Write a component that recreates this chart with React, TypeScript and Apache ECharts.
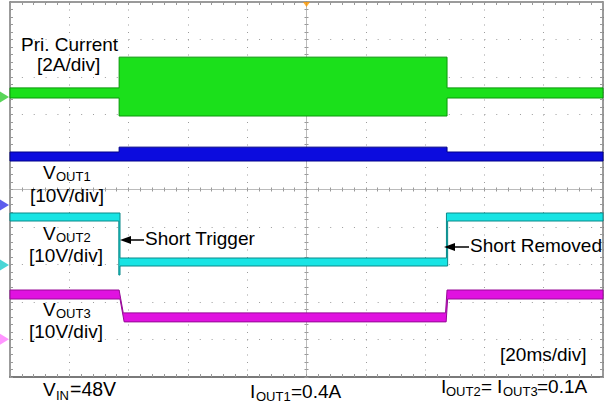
import React, { useEffect, useRef } from "react";
import * as echarts from "echarts";

// Time axis in ms (20 ms/div, trigger at 0), vertical axis in divisions (centre = 0)
const X_MIN = -100;
const X_MAX = 100;
const X_STEP = 20;
const Y_MIN = -5;
const Y_MAX = 5;

// Primary current band (upper / lower envelope)
const priHiT = [-100, -63.2, -63.2, 47.4, 47.4, 100];
const priHi = [2.71, 2.71, 3.53, 3.53, 2.71, 2.71];
const priLoT = [-100, -63.2, -63.2, 47.4, 47.4, 100];
const priLo = [2.44, 2.44, 1.96, 1.96, 2.44, 2.44];

// VOUT1
const v1HiT = [-100, -63.2, -63.2, 47.4, 47.4, 100];
const v1Hi = [1.0, 1.0, 1.13, 1.13, 1.0, 1.0];
const v1LoT = [-100, 100];
const v1Lo = [0.76, 0.76];

// VOUT2
const v2HiT = [-100, -62.9, -62.9, 47.2, 47.2, 100];
const v2Hi = [-0.627, -0.627, -1.827, -1.827, -0.627, -0.627];
const v2LoT = [-100, -63.3, -63.3, -62.9, -62.9, 47.6, 47.6, 100];
const v2Lo = [-0.84, -0.84, -2.28, -2.28, -2.04, -2.04, -0.84, -0.84];

// VOUT3
const v3HiT = [-100, -63.2, -61.8, 46.9, 47.4, 100];
const v3Hi = [-2.68, -2.68, -3.29, -3.29, -2.68, -2.68];
const v3LoT = [-100, -62.9, -61.5, 47.1, 47.6, 100];
const v3Lo = [-2.92, -2.92, -3.53, -3.53, -2.92, -2.92];

// Channel ground markers (div)
const markerLevels = [2.47, -0.41, -2.01, -3.99];
const markerColors = ["#2ecc2e", "#3434e8", "#1ccccc", "#ff7bff"];

const FONT = "Liberation Sans, Arial, sans-serif";

type Lbl = { t: string; x: number; b: number; s: number };
const labels: Lbl[] = [
  { t: "Pri. Current", x: 21, b: 51, s: 19 },
  { t: "[2A/div]", x: 37, b: 71, s: 19 },
  { t: "V", x: 43, b: 179, s: 19 },
  { t: "OUT1", x: 56, b: 181.5, s: 13 },
  { t: "[10V/div]", x: 30, b: 202, s: 19 },
  { t: "V", x: 43, b: 240, s: 19 },
  { t: "OUT2", x: 56, b: 242.5, s: 13 },
  { t: "[10V/div]", x: 29, b: 262.5, s: 19 },
  { t: "V", x: 43, b: 316, s: 19 },
  { t: "OUT3", x: 56, b: 318.5, s: 13 },
  { t: "[10V/div]", x: 29, b: 338, s: 19 },
  { t: "Short Trigger", x: 145, b: 245, s: 19 },
  { t: "Short Removed", x: 470, b: 252, s: 19 },
  { t: "[20ms/div]", x: 500, b: 361, s: 19 },
  { t: "V", x: 43, b: 396, s: 19 },
  { t: "IN", x: 56, b: 400, s: 13 },
  { t: "=48V", x: 70, b: 396, s: 19.5 },
  { t: "I", x: 250, b: 398, s: 19 },
  { t: "OUT1", x: 256, b: 401, s: 13 },
  { t: "=0.4A", x: 291, b: 398, s: 19 },
  { t: "I", x: 441, b: 393, s: 19 },
  { t: "OUT2", x: 446, b: 396, s: 13 },
  { t: "= ", x: 481, b: 393, s: 19 },
  { t: "I", x: 497, b: 393, s: 19 },
  { t: "OUT3", x: 503, b: 396, s: 13 },
  { t: "=0.1A", x: 537, b: 393, s: 19 },
];

function zip(t: number[], v: number[]) {
  return t.map((x, i) => [x, v[i]]);
}

function bandSeries(
  hiT: number[], hi: number[], loT: number[], lo: number[],
  fill: any, stroke: string
) {
  const hiPts = zip(hiT, hi);
  const loPts = zip(loT, lo).reverse();
  return {
    type: "custom",
    xAxisIndex: 0,
    yAxisIndex: 0,
    silent: true,
    z: 3,
    data: [hiPts[0]],
    renderItem: (params: any, api: any) => {
      const pts = hiPts.concat(loPts).map((p) => api.coord(p));
      return {
        type: "polygon",
        shape: { points: pts },
        style: { fill, stroke, lineWidth: 1 },
      };
    },
  };
}

const FRAME = "#7a7a7a";
const GRIDC = "#9c9c9c";

function xAx(extra: any) {
  return {
    type: "value",
    min: X_MIN,
    max: X_MAX,
    interval: X_STEP,
    axisLabel: { show: false },
    splitLine: { show: false },
    ...extra,
  };
}
function yAx(extra: any) {
  return {
    type: "value",
    min: Y_MIN,
    max: Y_MAX,
    interval: 1,
    axisLabel: { show: false },
    splitLine: { show: false },
    ...extra,
  };
}

const edgeTicks = (len: number, inside: boolean, color: string) => ({
  axisTick: { show: true, inside, length: len, lineStyle: { color, width: 1 } },
  minorTick: { show: true, splitNumber: 5, length: len, lineStyle: { color, width: 1 } },
});

const option: any = {
  animation: false,
  backgroundColor: "#ffffff",
  grid: { left: 10, top: 2, width: 593, height: 375, containLabel: false },
  xAxis: [
    xAx({
      position: "bottom",
      axisLine: { show: true, onZero: false, lineStyle: { color: FRAME, width: 2 } },
      ...edgeTicks(3, true, "#999"),
      splitLine: { show: true, lineStyle: { color: GRIDC, width: 1, type: [1, 6.5] } },
    }),
    xAx({
      position: "top",
      axisLine: { show: true, onZero: false, lineStyle: { color: FRAME, width: 1.5 } },
      ...edgeTicks(3, true, "#999"),
    }),
    xAx({
      position: "bottom",
      axisLine: { show: true, onZero: true, onZeroAxisIndex: 0, lineStyle: { color: "#bbbbbb", width: 1 } },
      ...edgeTicks(2, true, "#999"),
    }),
    xAx({
      position: "bottom",
      axisLine: { show: true, onZero: true, onZeroAxisIndex: 0, lineStyle: { color: "#bbbbbb", width: 1 } },
      ...edgeTicks(2, false, "#999"),
    }),
  ],
  yAxis: [
    yAx({
      position: "left",
      axisLine: { show: true, onZero: false, lineStyle: { color: FRAME, width: 1.5 } },
      ...edgeTicks(3, true, "#999"),
      splitLine: { show: true, lineStyle: { color: GRIDC, width: 1, type: [1, 10.86] } },
    }),
    yAx({
      position: "right",
      axisLine: { show: true, onZero: false, lineStyle: { color: FRAME, width: 1.5 } },
      ...edgeTicks(3, true, "#999"),
    }),
    yAx({
      position: "left",
      axisLine: { show: true, onZero: true, onZeroAxisIndex: 0, lineStyle: { color: "#bbbbbb", width: 1 } },
      ...edgeTicks(2, true, "#999"),
    }),
    yAx({
      position: "left",
      axisLine: { show: true, onZero: true, onZeroAxisIndex: 0, lineStyle: { color: "#bbbbbb", width: 1 } },
      ...edgeTicks(2, false, "#999"),
    }),
  ],
  series: [
    bandSeries(priHiT, priHi, priLoT, priLo, "#1be01b", "#0b980b"),
    bandSeries(v1HiT, v1Hi, v1LoT, v1Lo, "#0c0cde", "#000088"),
    bandSeries(v2HiT, v2Hi, v2LoT, v2Lo, "#18e4e4", "#0a8a8a"),
    bandSeries(v3HiT, v3Hi, v3LoT, v3Lo, "#e012e0", "#960a96"),
    {
      type: "scatter",
      xAxisIndex: 0,
      yAxisIndex: 0,
      silent: true,
      clip: false,
      z: 5,
      symbol: "triangle",
      symbolSize: [11, 9],
      symbolRotate: -90,
      symbolOffset: [-5.5, 0],
      data: markerLevels.map((v, i) => ({
        value: [X_MIN, v],
        itemStyle: { color: markerColors[i] },
      })),
    },
    {
      type: "scatter",
      xAxisIndex: 0,
      yAxisIndex: 0,
      silent: true,
      clip: false,
      z: 5,
      symbol: "triangle",
      symbolSize: [7, 5],
      symbolRotate: 180,
      symbolOffset: [0, 2.5],
      itemStyle: { color: "#ff9a00" },
      data: [[0, Y_MAX]],
    },
  ],
  graphic: [
    ...labels.map((l) => ({
      type: "text",
      z: 10,
      silent: true,
      style: {
        text: l.t,
        x: l.x,
        y: l.b - 0.3465 * l.s,
        fill: "#000",
        font: `${l.s}px ${FONT}`,
        textAlign: "left",
        textVerticalAlign: "middle",
      },
    })),
    { type: "line", z: 10, silent: true, shape: { x1: 130, y1: 240, x2: 144, y2: 240 }, style: { stroke: "#000", lineWidth: 1.5 } },
    { type: "polygon", z: 10, silent: true, shape: { points: [[120, 240], [131, 236], [131, 244]] }, style: { fill: "#000" } },
    { type: "line", z: 10, silent: true, shape: { x1: 454, y1: 247, x2: 469, y2: 247 }, style: { stroke: "#000", lineWidth: 1.5 } },
    { type: "polygon", z: 10, silent: true, shape: { points: [[444, 247], [455, 243], [455, 251]] }, style: { fill: "#000" } },
  ],
};

export default function App() {
  const ref = useRef<HTMLDivElement>(null);
  useEffect(() => {
    const chart = echarts.init(ref.current!, null, { renderer: "svg" });
    chart.setOption(option);
    return () => chart.dispose();
  }, []);
  return (
    <div
      ref={ref}
      style={{ position: "absolute", left: 0, top: 0, width: 614, height: 414, background: "#fff" }}
    />
  );
}
